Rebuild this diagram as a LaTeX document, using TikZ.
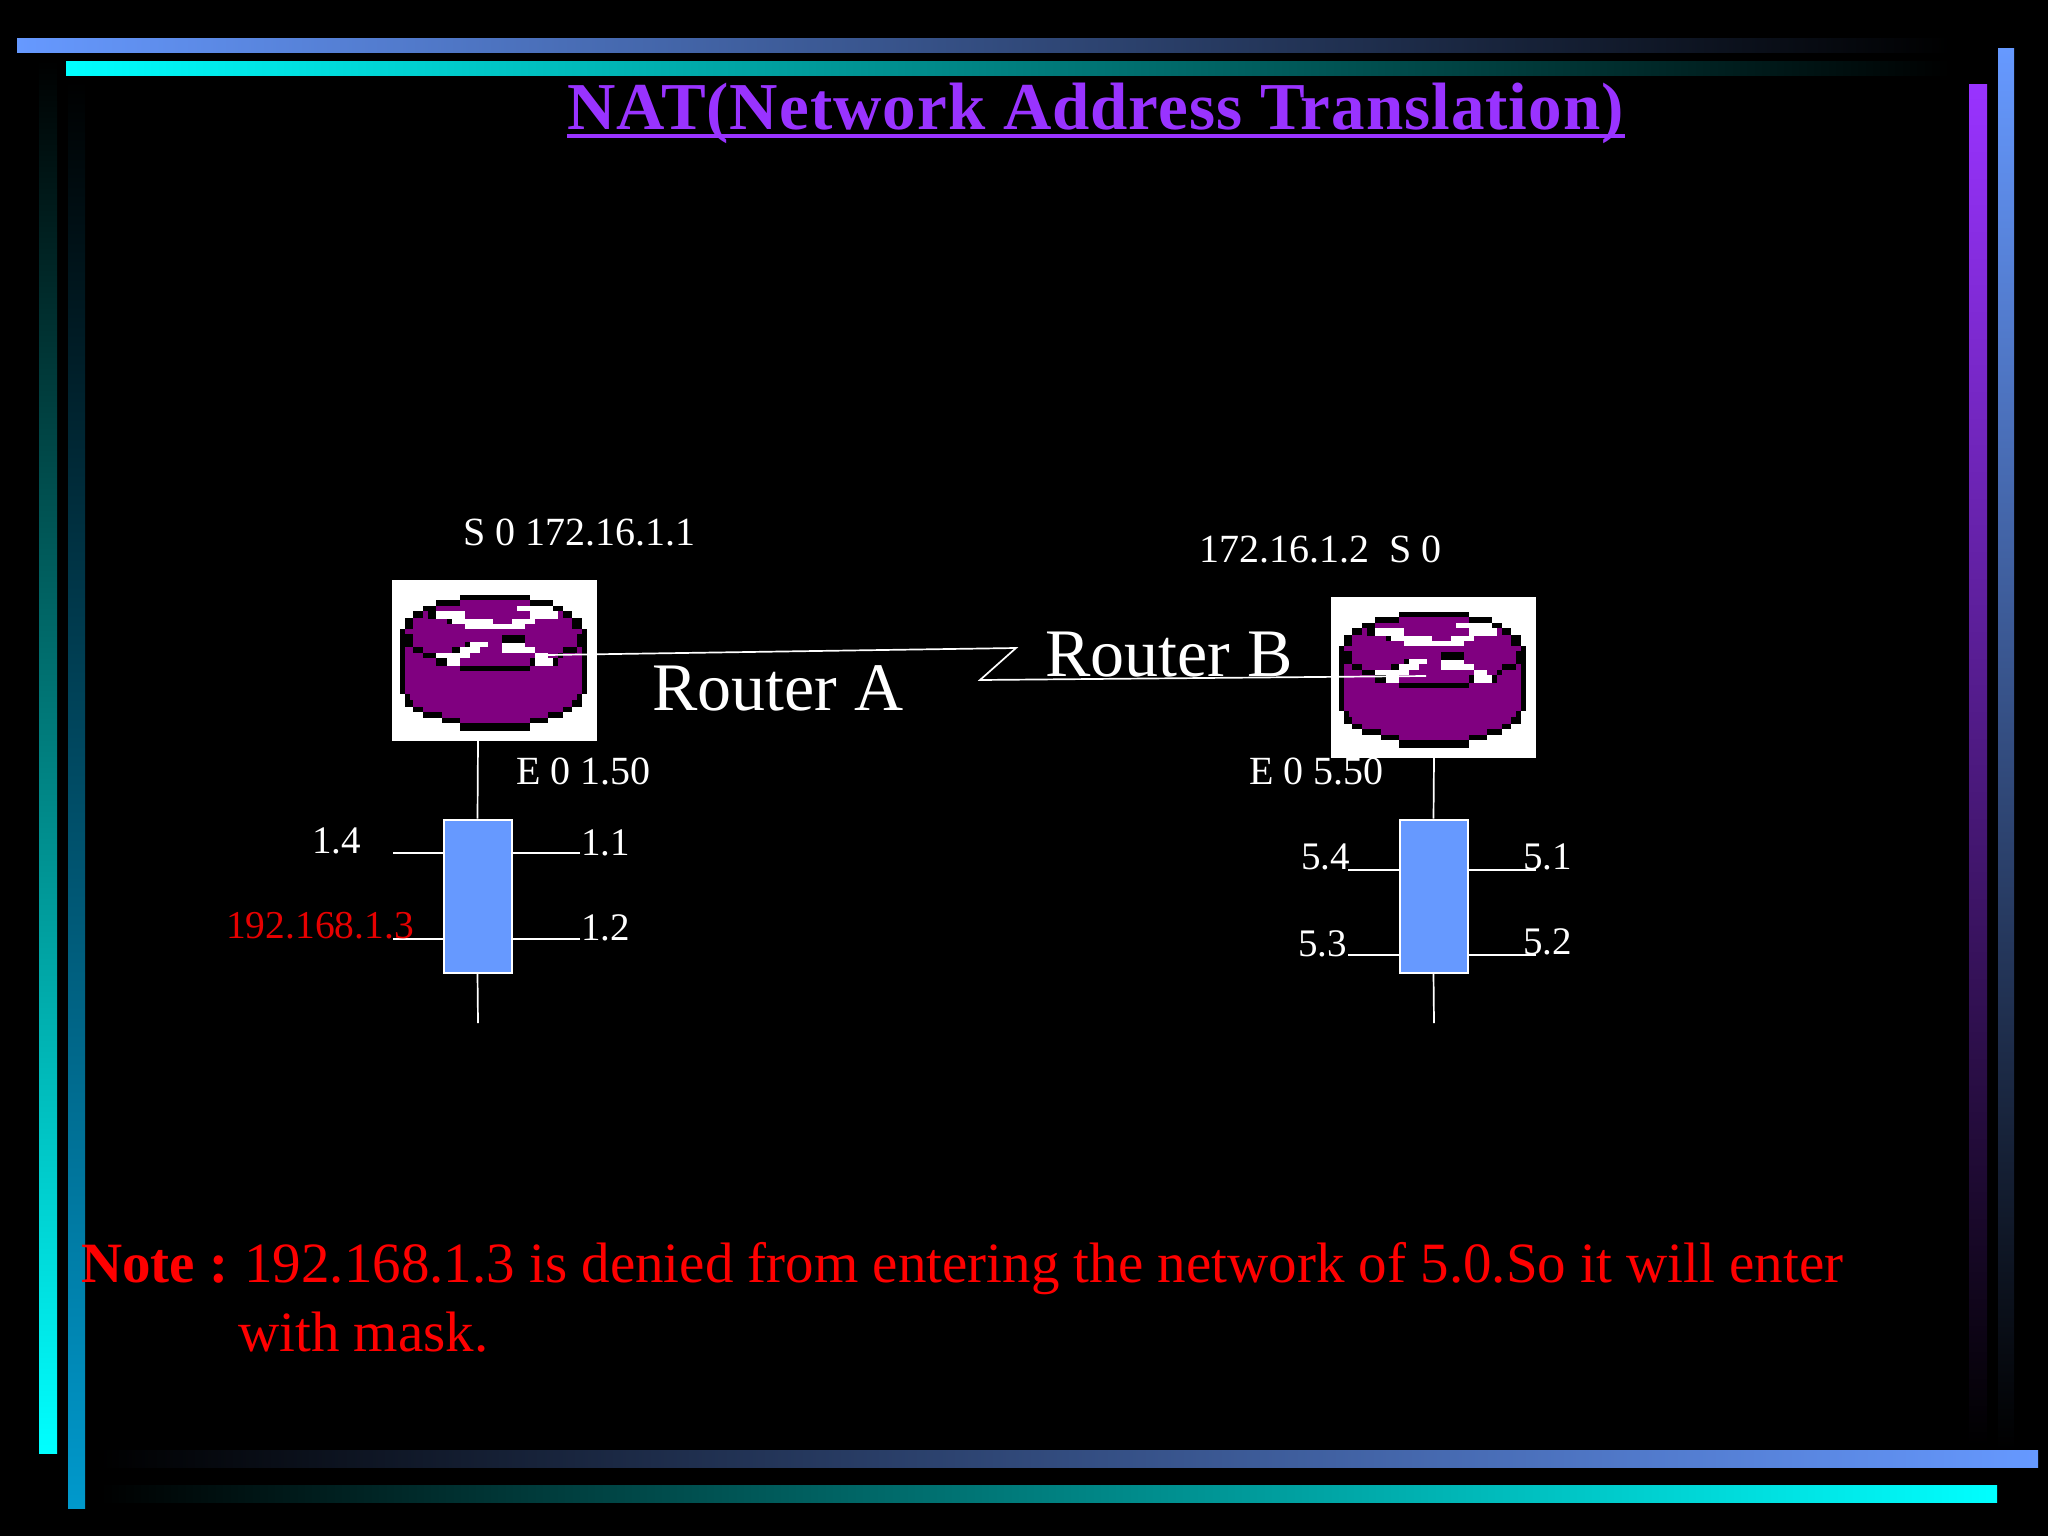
\documentclass[tikz,border=0pt]{standalone}
\usepackage{fontspec}
\setmainfont{Liberation Serif}
\newfontfamily\titlefont[LetterSpace=1.5]{Liberation Serif}
\definecolor{barblue}{HTML}{6699FF}
\definecolor{barcyan}{HTML}{00FFFF}
\definecolor{barpurple}{HTML}{9933FF}
\definecolor{barteal}{HTML}{0099CC}
\definecolor{routerpurple}{HTML}{800080}
\definecolor{notered}{HTML}{FF0000}
\definecolor{labelred}{HTML}{E60000}
\newcommand{\RR}[5]{\fill[#5] (#1,#2) rectangle (#3,#4);}
\newcommand{\routerart}{%
  % silhouette
  \RR{270}{105}{480}{512}{black}\RR{215}{121}{535}{490}{black}\RR{198}{121}{550}{473}{black}\RR{160}{137}{580}{473}{black}
  \RR{130}{153}{605}{457}{black}\RR{105}{175}{635}{440}{black}\RR{90}{207}{650}{402}{black}
  % body
  \RR{270}{121}{480}{490}{routerpurple}\RR{215}{137}{535}{473}{routerpurple}\RR{198}{137}{550}{457}{routerpurple}
  \RR{160}{153}{580}{457}{routerpurple}\RR{130}{175}{605}{440}{routerpurple}\RR{120}{207}{620}{420}{routerpurple}
  \RR{105}{207}{637}{402}{routerpurple}
  % black details
  \RR{90}{222}{130}{262}{black}\RR{620}{222}{650}{262}{black}
  \RR{130}{262}{160}{278}{black}\RR{160}{278}{198}{294}{black}\RR{198}{294}{230}{318}{black}
  \RR{270}{318}{480}{333}{black}\RR{480}{294}{495}{318}{black}\RR{550}{294}{565}{318}{black}
  \RR{565}{278}{580}{294}{black}\RR{580}{262}{620}{278}{black}
  \RR{395}{225}{465}{248}{black}\RR{245}{262}{270}{278}{black}\RR{285}{247}{300}{262}{black}
  \RR{230}{178}{245}{193}{black}\RR{175}{137}{198}{178}{black}
  % white details
  \RR{198}{153}{285}{178}{white}\RR{245}{178}{285}{193}{white}\RR{285}{178}{370}{208}{white}
  \RR{370}{193}{465}{208}{white}\RR{425}{178}{495}{193}{white}\RR{480}{153}{565}{178}{white}
  \RR{440}{137}{550}{153}{white}
  \RR{300}{247}{355}{262}{white}\RR{270}{262}{330}{278}{white}\RR{198}{278}{300}{294}{white}
  \RR{230}{294}{270}{318}{white}
  \RR{395}{248}{465}{278}{white}\RR{465}{262}{495}{278}{white}\RR{495}{278}{535}{294}{white}
  \RR{495}{294}{550}{318}{white}
}
\tikzset{
  wire/.style={draw=white,line width=1.7pt},
  hub/.style={draw=white,fill=barblue,line width=2pt,minimum width=68pt,minimum height=153pt,inner sep=0pt},
  routerbox/.style={fill=white,minimum width=205pt,minimum height=161pt,inner sep=0pt},
  lbl/.style={text=white,anchor=base west,inner sep=0pt,font=\fontsize{40}{44}\selectfont},
  numlbl/.style={text=white,anchor=base west,inner sep=0pt,font=\fontsize{39}{44}\selectfont},
  biglbl/.style={text=white,anchor=base west,inner sep=0pt,font=\fontsize{68}{72}\selectfont},
  redlbl/.style={text=labelred,anchor=base west,inner sep=0pt,font=\fontsize{39.5}{44}\selectfont},
  notetxt/.style={text=notered,anchor=base west,inner sep=0pt,font=\fontsize{57}{60}\selectfont},
  titletxt/.style={text=barpurple,anchor=base west,inner sep=0pt,font=\titlefont\bfseries\fontsize{67}{72}\selectfont},
}
\begin{document}
\begin{tikzpicture}[x=1pt,y=-1pt]
\useasboundingbox (0,0) rectangle (2048,1536);
\fill[black] (0,0) rectangle (2048,1536);
% frame bars
\shade[top color=black,bottom color=barcyan] (39,60) rectangle (57,1453);
\shade[top color=black,bottom color=barteal] (68,80) rectangle (85,1508);
\shade[top color=barblue,bottom color=black] (1998,49) rectangle (2014,1450);
\shade[top color=barpurple,bottom color=black] (1969,85) rectangle (1987,1445);
\shade[left color=barblue,right color=black] (17,39) rectangle (1950,53);
\shade[left color=barcyan,right color=black] (66,62) rectangle (1950,76);
\shade[left color=black,right color=barblue] (100,1450) rectangle (2038,1467);
\shade[left color=black,right color=barcyan] (100,1485) rectangle (1997,1502);
% title
\node[titletxt] (title) at (567,130) {NAT(Network Address Translation)};
\draw[barpurple,line width=3.5pt] (567,136) -- (1625,136);
% routers
\node[routerbox] (routerA) at (494.5,660.5) {};
\node[routerbox] (routerB) at (1433.5,677.5) {};
\begin{scope}[shift={(370,560)},x=0.3333pt,y=-0.3333pt]\routerart\end{scope}
\begin{scope}[shift={(1309,577)},x=0.3333pt,y=-0.3333pt]\routerart\end{scope}
% hubs
\node[hub] (hubA) at (477.5,896) {};
\node[hub] (hubB) at (1433.5,896) {};
% anchors of the wires
\coordinate (ifA) at (548,655);
\coordinate (bendA) at (1016,648);
\coordinate (bendB) at (980,680);
\coordinate (ifB) at (1426,676);
\coordinate (Atop) at (478,741);
\coordinate (Btop) at (1434,758);
\coordinate (Aend) at (478,1023);
\coordinate (Bend) at (1434,1023);
\coordinate (Al1) at (393,853);
\coordinate (Al2) at (393,939);
\coordinate (Ar1) at (580,853);
\coordinate (Ar2) at (580,939);
\coordinate (Bl1) at (1348,870);
\coordinate (Bl2) at (1348,955);
\coordinate (Br1) at (1536,870);
\coordinate (Br2) at (1536,955);
\draw[wire] (ifA) -- (bendA) -- (bendB) -- (ifB);
\draw[wire] (Atop) -- (hubA.north);
\draw[wire] (hubA.south) -- (Aend);
\draw[wire] (Btop) -- (hubB.north);
\draw[wire] (hubB.south) -- (Bend);
\draw[wire] (Al1) -- (Al1 -| hubA.west);
\draw[wire] (Al2) -- (Al2 -| hubA.west);
\draw[wire] (Ar1) -- (Ar1 -| hubA.east);
\draw[wire] (Ar2) -- (Ar2 -| hubA.east);
\draw[wire] (Bl1) -- (Bl1 -| hubB.west);
\draw[wire] (Bl2) -- (Bl2 -| hubB.west);
\draw[wire] (Br1) -- (Br1 -| hubB.east);
\draw[wire] (Br2) -- (Br2 -| hubB.east);
% labels
\node[lbl] (s0a) at (463,545) {S 0 172.16.1.1};
\node[lbl] (s0b) at (1199,562) {172.16.1.2\ \ S 0};
\node[biglbl] (ra) at (652,710) {Router A};
\node[biglbl] (rb) at (1045,676) {Router B};
\node[lbl] (e0a) at (516,784) {E 0 1.50};
\node[lbl] (e0b) at (1249,784) {E 0 5.50};
\node[numlbl] (a14) at (312,853) {1.4};
\node[numlbl] (a11) at (581,855) {1.1};
\node[redlbl] (a13) at (226,938) {192.168.1.3};
\node[numlbl] (a12) at (581,940) {1.2};
\node[numlbl] (b54) at (1301,869) {5.4};
\node[numlbl] (b51) at (1523,869) {5.1};
\node[numlbl] (b53) at (1298,956) {5.3};
\node[numlbl] (b52) at (1523,954) {5.2};
\node[notetxt] (note1) at (81,1282) {\textbf{Note :}\hspace{-3pt} 192.168.1.3 is denied from entering the network of 5.0.So it will enter};
\node[notetxt] (note2) at (238,1351) {with mask.};
\end{tikzpicture}
\end{document}
